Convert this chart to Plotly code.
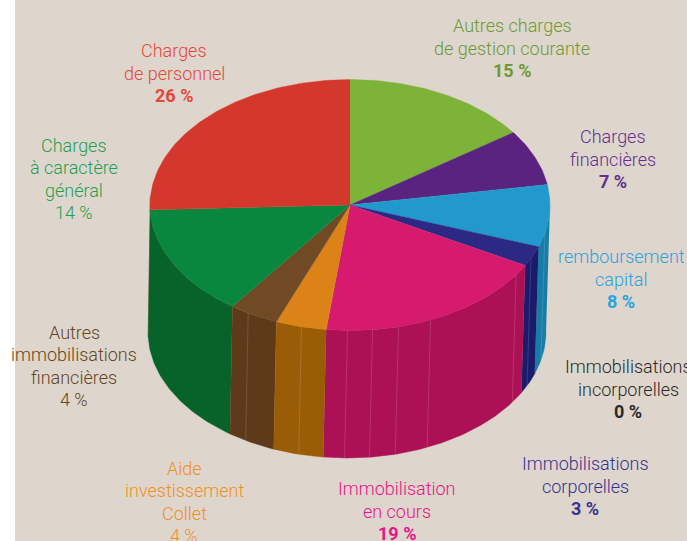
import math
import plotly.graph_objects as go

# ---- data (clockwise from 12 o'clock) ----
categories = ["Autres charges<br>de gestion courante", "Charges<br>financières", "remboursement<br>capital",
              "Immobilisations<br>incorporelles", "Immobilisations<br>corporelles", "Immobilisation<br>en cours",
              "Aide<br>investissement<br>Collet", "Autres<br>immobilisations<br>financières",
              "Charges<br>à caractère<br>général", "Charges<br>de personnel"]
printed_percent = [15, 7, 8, 0, 3, 19, 4, 4, 14, 26]
# slice sweep
drawn_share = [15.2, 7.2, 8.0, 0.0, 2.6, 18.9, 4.1, 4.0, 14.4, 25.6]
top_colors = ["#7DB338", "#59237F", "#2199CC", "#222222", "#2B2983", "#D61A6E", "#DC8318", "#6F4A25", "#0A873E", "#D4382C"]
wall_colors = ["#6A9A2E", "#471A66", "#167EA6", "#222222", "#1B1B6C", "#AC1155", "#9A5C06", "#5E3A1B", "#07632A", "#B5392F"]
text_colors = ["#6C9A32", "#63308E", "#27A3DE", "#2A2A2A", "#33348F", "#E81488", "#F08E1E", "#654522", "#1FA050", "#E4463C"]
pct_bold = [True, True, True, True, True, True, False, False, False, True]
label_x = [512, 613, 621, 628, 585, 397, 184, 74, 74, 174]
label_y = [48, 159, 279, 389, 486, 511, 502, 366, 179, 73]
seams = [28.6, 32.0, 34.4, 43.4, 46.1, 48.2, 50.2, 53.9, 58.5]

# ---- pie geometry ----
TOP = dict(cx=350, cy=205, rx=200, ry=125.5)
BOT = dict(cx=347, cy=332, rx=199, ry=126)
WALL_FROM, WALL_TO = 25.0, 76.0
LINE_STEP = 22.3


def pt(g, share):
    a = 2 * math.pi * share / 100
    return g["cx"] + g["rx"] * math.sin(a), g["cy"] - g["ry"] * math.cos(a)


def arc(g, s0, s1):
    n = max(2, int(abs(s1 - s0) * 4) + 2)
    return [pt(g, s0 + (s1 - s0) * i / (n - 1)) for i in range(n)]


fig = go.Figure()


def poly(points, color):
    fig.add_trace(go.Scatter(x=[p[0] for p in points], y=[p[1] for p in points], mode="lines",
                             fill="toself", fillcolor=color, line=dict(color=color, width=0.4),
                             hoverinfo="skip", showlegend=False))


edges = []
c = 0.0
for v in drawn_share:
    edges.append((c, c + v))
    c += v

# side wall, outer slices first
order = sorted(range(len(edges)), key=lambda i: -abs(sum(edges[i]) / 2 - 50))
for i in order:
    s0, s1 = max(edges[i][0], WALL_FROM), min(edges[i][1], WALL_TO)
    if s1 > s0:
        poly(arc(TOP, s0, s1) + arc(BOT, s1, s0), wall_colors[i])

# thin seams on the wall
for s in seams:
    a, b = pt(TOP, s), pt(BOT, s)
    fig.add_trace(go.Scatter(x=[a[0], b[0]], y=[a[1], b[1]], mode="lines",
                             line=dict(color="rgba(255,255,255,0.16)", width=0.9),
                             hoverinfo="skip", showlegend=False))

# top face
for i, (s0, s1) in enumerate(edges):
    if s1 > s0:
        poly([(TOP["cx"], TOP["cy"])] + arc(TOP, s0, s1), top_colors[i])

FONT = "Roboto, sans-serif"
for i, name in enumerate(categories):
    p = f"{printed_percent[i]} %"
    lines = name.split("<br>") + [f"<b>{p}</b>" if pct_bold[i] else p]
    first = label_y[i] - LINE_STEP * (len(lines) - 1) / 2
    for k, text in enumerate(lines):
        fig.add_annotation(x=label_x[i], y=first + k * LINE_STEP, text=text, showarrow=False,
                           align="center", xanchor="center", yanchor="middle",
                           font=dict(family=FONT, size=18, color=text_colors[i], weight=300))

fig.update_xaxes(range=[15, 687], visible=False, fixedrange=True)
fig.update_yaxes(range=[541, 0], visible=False, fixedrange=True)
fig.update_layout(width=687, height=541, margin=dict(l=15, r=0, t=0, b=0),
                  paper_bgcolor="white", plot_bgcolor="#DED6CD", showlegend=False)

fig.write_html("out.html", config={"displayModeBar": False},
               post_script="document.body.style.margin='0';document.documentElement.style.overflow='hidden';")
